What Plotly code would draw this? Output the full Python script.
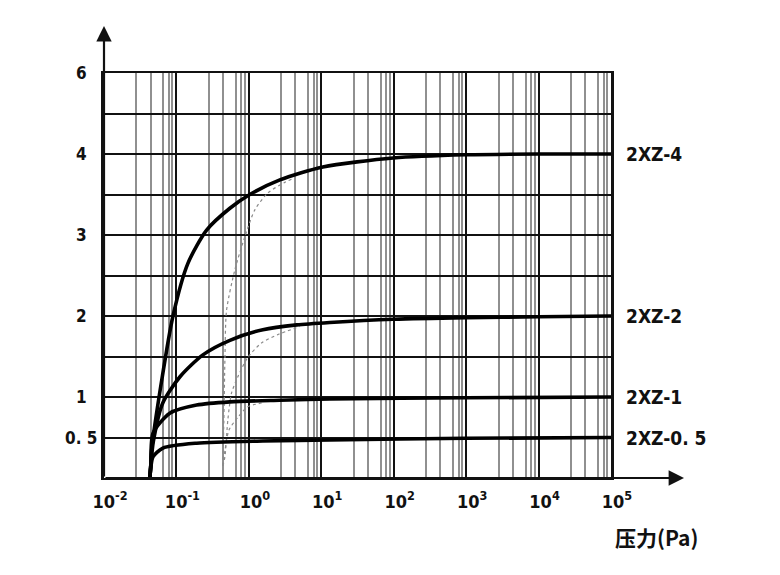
import plotly.graph_objects as go

# ---- data ----
series_names = ["2XZ-4", "2XZ-2", "2XZ-1", "2XZ-0. 5"]
series_label_y = [4, 2, 1, 0.5]

x_4 = [0.043, 0.0442, 0.0455, 0.0625, 0.0896, 0.144, 0.261, 0.547, 1.03, 2.68, 10.5, 98, 1000, 1e4, 1e5]
y_4 = [0.0, 0.15, 0.35, 1.20, 2.00, 2.65, 3.06, 3.33, 3.50, 3.68, 3.84, 3.95, 3.99, 4.0, 4.0]

x_2 = [0.043, 0.0442, 0.048, 0.065, 0.112, 0.232, 0.547, 1.56, 4.6, 13.1, 98, 1000, 1e4, 1e5]
y_2 = [0.0, 0.15, 0.45, 0.93, 1.25, 1.52, 1.70, 1.83, 1.89, 1.92, 1.96, 1.98, 1.99, 2.0]

x_1 = [0.043, 0.0442, 0.0474, 0.081, 0.19, 0.547, 2.68, 13.1, 1000, 1e5]
y_1 = [0.0, 0.15, 0.55, 0.80, 0.90, 0.94, 0.96, 0.975, 0.99, 1.0]

x_05 = [0.043, 0.0442, 0.0474, 0.065, 0.19, 1.56, 13.1, 1000, 1e5]
y_05 = [0.0, 0.12, 0.26, 0.37, 0.43, 0.457, 0.47, 0.49, 0.5]

# faint dotted curves
xd_4 = [0.4375, 0.452, 0.467, 0.492, 0.641, 0.881, 1.21, 1.83, 3.14, 3.92]
yd_4 = [0.15, 0.72, 1.46, 2.07, 2.57, 2.98, 3.31, 3.52, 3.65, 3.69]

xd_2 = [0.4375, 0.467, 0.513, 0.577, 0.705, 0.968, 1.51, 2.51, 5.05]
yd_2 = [0.15, 0.26, 0.72, 1.05, 1.25, 1.49, 1.67, 1.77, 1.87]

xd_1 = [0.4375, 0.47, 0.53, 0.705, 0.968, 1.6]
yd_1 = [0.15, 0.35, 0.59, 0.75, 0.88, 0.93]

# axis ticks
x_major = [1e-2, 1e-1, 1e0, 1e1, 1e2, 1e3, 1e4, 1e5]
x_major_text = ["10<sup>-2</sup>", "10<sup>-1</sup>", "10<sup>0</sup>", "10<sup>1</sup>",
                "10<sup>2</sup>", "10<sup>3</sup>", "10<sup>4</sup>", "10<sup>5</sup>"]
x_minor_mult = [2.8, 4.4, 6.6, 7.9, 8.8]
y_grid = [0, 0.5, 1, 1.5, 2, 2.5, 3, 3.5, 4, 4.5, 5]
y_label_pos = [0.5, 1, 2, 3, 4, 5]
y_label_text = ["0. 5", "1", "2", "3", "4", "6"]
x_title = "压力(Pa)"

x_minor = [d * m for d in x_major[:-1] for m in x_minor_mult]

# layout geometry (page has an 8px body offset)
OFF = 8
W, H = 780, 575
PL, PT, PR, PB = 104, 73, 611, 478     # plot box in page pixels
pw, ph = PR - PL, PB - PT
L, T = PL - OFF, PT - OFF
R, B = W - L - pw, H - T - ph


def xp(px):
    return (px - PL) / pw


def yp(py):
    return (PB - py) / ph


fig = go.Figure()

for xs, ys in [(xd_4, yd_4), (xd_2, yd_2), (xd_1, yd_1)]:
    fig.add_trace(go.Scatter(x=xs, y=ys, mode="lines",
                             line=dict(color="#8a8a8a", width=1.2, dash="dot", shape="spline", smoothing=0.7),
                             hoverinfo="skip", showlegend=False))

for xs, ys, name in [(x_4, y_4, series_names[0]), (x_2, y_2, series_names[1]),
                     (x_1, y_1, series_names[2]), (x_05, y_05, series_names[3])]:
    fig.add_trace(go.Scatter(x=xs, y=ys, mode="lines", name=name,
                             line=dict(color="#000000", width=3.6, shape="spline", smoothing=0.7),
                             showlegend=False))

NARROW = "DejaVu Sans Condensed, Liberation Sans Narrow, sans-serif"
tick_font = dict(family=NARROW, size=18, color="#111111", weight="bold")
ylab_font = dict(family=NARROW, size=17, color="#111111", weight="bold")
ser_font = dict(family=NARROW, size=19, color="#111111", weight="bold")

fig.update_xaxes(type="log", range=[-2, 5], tickmode="array", tickvals=x_major, ticktext=x_major_text,
                 showgrid=True, gridcolor="#111111", gridwidth=2,
                 minor=dict(tickmode="array", tickvals=x_minor, showgrid=True, gridcolor="#909090", gridwidth=1.8, ticks=""),
                 showline=True, linecolor="#111111", linewidth=2, mirror=True, ticks="",
                 tickfont=tick_font, ticklabelstandoff=6, ticklabelshift=6, zeroline=False)
fig.update_yaxes(range=[0, 5], tickmode="array", tickvals=y_grid, showticklabels=False,
                 showgrid=True, gridcolor="#111111", gridwidth=2,
                 showline=True, linecolor="#111111", linewidth=2.5, mirror=True, ticks="", zeroline=False)

ann = []
for yv, txt in zip(y_label_pos, y_label_text):
    ann.append(dict(x=xp(81), xref="paper", y=yv, yref="y", text=txt, showarrow=False,
                    xanchor="center", yanchor="middle", font=ylab_font))
for yv, txt in zip(series_label_y, series_names):
    ann.append(dict(x=xp(624), xref="paper", y=yv, yref="y", text=txt, showarrow=False,
                    xanchor="left", yanchor="middle", font=ser_font))
ann.append(dict(x=xp(613), xref="paper", y=yp(537), yref="paper", text="<b>" + x_title + "</b>",
                showarrow=False, xanchor="left", yanchor="middle",
                font=dict(family="Noto Sans CJK SC", size=21, color="#111111")))
# axis arrows
ann.append(dict(x=0, xref="paper", y=yp(26), yref="paper", ax=0, ay=PB - 26,
                showarrow=True, arrowhead=2, arrowsize=1.4, arrowwidth=2.2,
                arrowcolor="#111111", text=""))
ann.append(dict(x=xp(684), xref="paper", y=0, yref="paper", ax=-(684 - PL), ay=0,
                showarrow=True, arrowhead=2, arrowsize=1.4, arrowwidth=2.2,
                arrowcolor="#111111", text=""))

fig.update_layout(width=W, height=H, margin=dict(l=L, r=R, t=T, b=B),
                  plot_bgcolor="white", paper_bgcolor="white", annotations=ann, showlegend=False)

fig.write_html("out.html")
